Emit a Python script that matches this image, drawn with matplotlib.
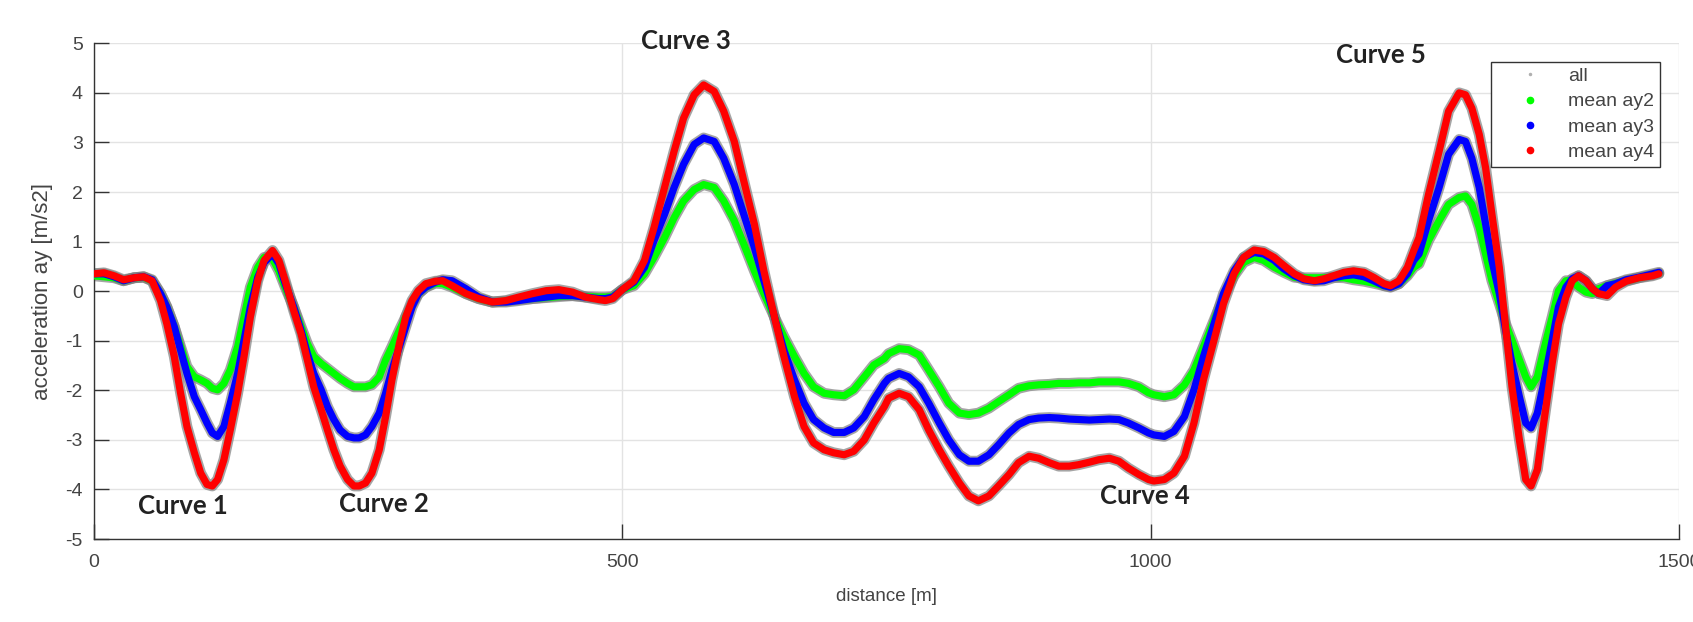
import matplotlib.pyplot as plt
from matplotlib.lines import Line2D

# distance along track [m]
dist = [0, 9.5, 19, 28, 38, 47, 55, 63, 69, 76, 82, 88, 95, 101, 107, 112, 117, 123, 129, 136,
        142, 148, 155, 161, 169, 175, 181, 189, 196, 202, 208, 215, 221, 227, 233, 240, 246,
        251, 257, 263, 270, 276, 282, 289, 295, 301, 307, 314, 323, 330, 339, 352, 364, 377, 390,
        402, 415, 428, 440, 453, 465, 478, 484, 491, 500,
        511, 521, 530, 540, 549, 558, 568, 577, 587, 596, 606, 615, 625, 634, 644, 653, 663, 672,
        681, 691, 700, 710, 719, 729, 738, 748,
        752, 762, 771, 781, 790, 800, 809, 819, 828, 837, 847, 856, 866, 875, 885, 894, 904, 913,
        923, 932, 942, 951, 961, 970, 979, 989, 998,
        1003, 1013, 1022, 1032, 1041, 1050, 1060, 1069, 1079, 1088, 1098, 1107, 1117, 1126, 1136,
        1145, 1155, 1164, 1173, 1183, 1192, 1202, 1211, 1221, 1227, 1235, 1243, 1249,
        1254, 1263, 1273, 1282, 1292, 1298, 1304, 1311, 1317, 1323, 1330, 1336, 1342, 1349, 1355,
        1360, 1366, 1372, 1380, 1386, 1393, 1399, 1405, 1412, 1418, 1424, 1432, 1440, 1450, 1462,
        1475, 1481]

ay2 = [0.31, 0.29, 0.27, 0.21, 0.27, 0.28, 0.21, -0.05, -0.32, -0.72, -1.12, -1.52, -1.73, -1.79,
       -1.86, -1.96, -1.99, -1.86, -1.59, -1.12, -0.52, 0.08, 0.48, 0.68, 0.65, 0.41, 0.08, -0.32,
       -0.72, -1.06, -1.32, -1.46, -1.56, -1.66, -1.76, -1.86, -1.93,
       -1.93, -1.93, -1.89, -1.73, -1.39, -1.12, -0.79, -0.52, -0.25, -0.05, 0.08, 0.16, 0.15, 0.08,
       -0.05, -0.15, -0.22, -0.20, -0.17, -0.15, -0.13, -0.11, -0.09, -0.11, -0.12, -0.12, -0.11, 0.03,
       0.11, 0.35, 0.68, 1.08, 1.48, 1.82, 2.05, 2.15, 2.09, 1.82, 1.42, 0.95, 0.41, -0.05, -0.52,
       -0.92, -1.32, -1.66, -1.93, -2.06, -2.09, -2.11, -1.99, -1.73, -1.49, -1.36,
       -1.26, -1.16, -1.18, -1.29, -1.59, -1.93, -2.26, -2.46, -2.49, -2.46, -2.36, -2.23, -2.09,
       -1.96, -1.91, -1.89, -1.88, -1.86, -1.86, -1.85, -1.85, -1.83, -1.83, -1.83, -1.86, -1.93, -2.05,
       -2.09, -2.13, -2.09, -1.89, -1.59, -1.12, -0.59, -0.12, 0.31, 0.58, 0.68, 0.62, 0.48, 0.38,
       0.28, 0.27, 0.27, 0.27, 0.28, 0.27, 0.23, 0.20, 0.16, 0.11, 0.09, 0.15, 0.31, 0.48,
       0.55, 1.02, 1.42, 1.75, 1.89, 1.92, 1.75, 1.28, 0.75, 0.21, -0.25, -0.66, -0.99, -1.39, -1.73,
       -1.93, -1.73, -1.19, -0.52, 0.01, 0.21, 0.21, 0.08, -0.02, -0.05, 0.05, 0.11, 0.16, 0.21, 0.27,
       0.33, 0.36]

ay3 = [0.35, 0.35, 0.29, 0.21, 0.27, 0.29, 0.23, -0.05, -0.32, -0.72, -1.19, -1.66, -2.13, -2.39,
       -2.66, -2.86, -2.93, -2.73, -2.26, -1.66, -0.99, -0.32, 0.28, 0.58, 0.75, 0.55, 0.15, -0.32,
       -0.79, -1.26, -1.66, -1.99, -2.33, -2.59, -2.80, -2.93, -2.96,
       -2.96, -2.90, -2.73, -2.46, -2.06, -1.59, -1.12, -0.72, -0.32, -0.05, 0.08, 0.18, 0.23, 0.21,
       0.05, -0.12, -0.22, -0.22, -0.19, -0.15, -0.12, -0.09, -0.09, -0.12, -0.15, -0.15, -0.12, 0.03,
       0.18, 0.48, 1.02, 1.55, 2.09, 2.56, 2.96, 3.09, 3.02, 2.68, 2.15, 1.55, 0.88, 0.21, -0.52,
       -1.19, -1.79, -2.26, -2.59, -2.76, -2.85, -2.85, -2.76, -2.53, -2.19, -1.86,
       -1.76, -1.66, -1.73, -1.93, -2.26, -2.66, -3.00, -3.30, -3.43, -3.43, -3.30, -3.10, -2.86,
       -2.69, -2.59, -2.56, -2.55, -2.56, -2.58, -2.59, -2.60, -2.59, -2.58, -2.59, -2.66, -2.76, -2.86,
       -2.90, -2.93, -2.83, -2.53, -1.99, -1.32, -0.66, -0.05, 0.41, 0.68, 0.78, 0.75, 0.62, 0.45,
       0.31, 0.23, 0.20, 0.21, 0.27, 0.31, 0.33, 0.29, 0.21, 0.11, 0.08, 0.15, 0.35, 0.62,
       0.75, 1.42, 2.09, 2.76, 3.06, 3.02, 2.68, 2.09, 1.35, 0.62, -0.05, -0.79, -1.46, -2.13, -2.66,
       -2.76, -2.46, -1.86, -0.99, -0.32, 0.08, 0.25, 0.31, 0.21, 0.05, -0.05, 0.11, 0.15, 0.23, 0.28,
       0.35, 0.38]

ay4 = [0.35, 0.37, 0.31, 0.23, 0.27, 0.29, 0.21, -0.19, -0.66, -1.32, -2.06, -2.73, -3.26, -3.67,
       -3.90, -3.93, -3.80, -3.40, -2.80, -2.06, -1.32, -0.52, 0.21, 0.62, 0.82, 0.62, 0.21, -0.39,
       -0.86, -1.39, -1.93, -2.39, -2.80, -3.20, -3.53, -3.80, -3.93,
       -3.93, -3.87, -3.67, -3.20, -2.53, -1.79, -1.06, -0.52, -0.19, 0.01, 0.15, 0.20, 0.21, 0.11,
       -0.05, -0.15, -0.22, -0.19, -0.12, -0.05, 0.01, 0.03, -0.02, -0.12, -0.17, -0.19, -0.15, 0.03,
       0.21, 0.62, 1.28, 2.09, 2.82, 3.49, 3.96, 4.16, 4.03, 3.63, 3.02, 2.22, 1.35, 0.41, -0.52,
       -1.32, -2.13, -2.73, -3.06, -3.20, -3.26, -3.30, -3.23, -3.00, -2.66, -2.33,
       -2.16, -2.06, -2.13, -2.39, -2.80, -3.20, -3.53, -3.87, -4.13, -4.23, -4.13, -3.93, -3.70,
       -3.46, -3.33, -3.37, -3.46, -3.53, -3.53, -3.50, -3.45, -3.40, -3.37, -3.43, -3.57, -3.70, -3.80,
       -3.83, -3.80, -3.67, -3.33, -2.66, -1.79, -0.99, -0.25, 0.35, 0.68, 0.83, 0.80, 0.68, 0.52,
       0.35, 0.25, 0.21, 0.25, 0.31, 0.38, 0.41, 0.38, 0.28, 0.15, 0.11, 0.21, 0.48, 0.82,
       1.08, 1.95, 2.82, 3.63, 4.00, 3.96, 3.69, 3.16, 2.49, 1.55, 0.48, -0.72, -1.93, -3.00, -3.80,
       -3.93, -3.60, -2.66, -1.46, -0.66, -0.12, 0.21, 0.31, 0.21, 0.05, -0.05, -0.09, 0.08, 0.20, 0.27,
       0.31, 0.35]

curve_names = ['Curve 1', 'Curve 2', 'Curve 3', 'Curve 4', 'Curve 5']
curve_x = [84, 274, 560, 995, 1218]
curve_y = [-4.33, -4.3, 5.05, -4.13, 4.76]

plt.rcParams['font.family'] = ['Liberation Sans', 'DejaVu Sans']
plt.rcParams['axes.unicode_minus'] = False

fig = plt.figure(figsize=(16.93, 6.22), dpi=100)
ax = fig.add_subplot(1, 1, 1)
fig.subplots_adjust(left=0.0555, right=0.9917, top=0.9304, bottom=0.1334)

series = [(ay2, '#00ff00'), (ay3, '#0000ff'), (ay4, '#ff0000')]

# gray band of all runs under the means
for ay, c in series:
    ax.plot(dist, ay, color='#7f7f7f', lw=7.8, alpha=0.7, solid_capstyle='round',
            solid_joinstyle='round', zorder=2)
for ay, c in series:
    ax.plot(dist, ay, color=c, lw=5.2, solid_capstyle='round', solid_joinstyle='round', zorder=3)

for name, x, y in zip(curve_names, curve_x, curve_y):
    ax.text(x, y, name, fontsize=18.5, fontweight='bold', family=['Lato', 'DejaVu Sans'],
            color='#222222', ha='center', va='center', zorder=5, clip_on=False)

ax.set_xlim(0, 1500)
ax.set_ylim(-5, 5)
ax.set_xticks([0, 500, 1000, 1500])
ax.set_yticks(range(-5, 6))
ax.grid(True, color='#e3e3e3', lw=1)
ax.set_axisbelow(True)
for s in ['top', 'right']:
    ax.spines[s].set_visible(False)
for s in ['left', 'bottom']:
    ax.spines[s].set_color('#333333')
    ax.spines[s].set_linewidth(1)
ax.tick_params(direction='in', length=11, width=1, color='#333333', labelcolor='#444444',
               labelsize=14)
ax.tick_params(axis='y', pad=8)
ax.tick_params(axis='x', pad=11)
ax.set_xlabel('distance [m]', fontsize=13.5, color='#444444', labelpad=12)
ax.set_ylabel('acceleration ay [m/s2]', fontsize=16, color='#444444', labelpad=9)

handles = [Line2D([], [], ls='none', marker='.', ms=3, color='#b0b0b0'),
           Line2D([], [], ls='none', marker='.', ms=9, color='#00ff00'),
           Line2D([], [], ls='none', marker='.', ms=9, color='#0000ff'),
           Line2D([], [], ls='none', marker='.', ms=9, color='#ff0000')]
leg = ax.legend(handles, ['all', 'mean ay2', 'mean ay3', 'mean ay4'], loc='upper right',
                bbox_to_anchor=(0.988, 0.963), borderaxespad=0, fontsize=14, fancybox=False,
                framealpha=1, edgecolor='#333333', handlelength=3.4, handletextpad=0.25,
                borderpad=0.3, labelspacing=0.4)
leg.get_frame().set_linewidth(1)
for t in leg.get_texts():
    t.set_color('#444444')

fig.savefig('out.png', dpi=100)
